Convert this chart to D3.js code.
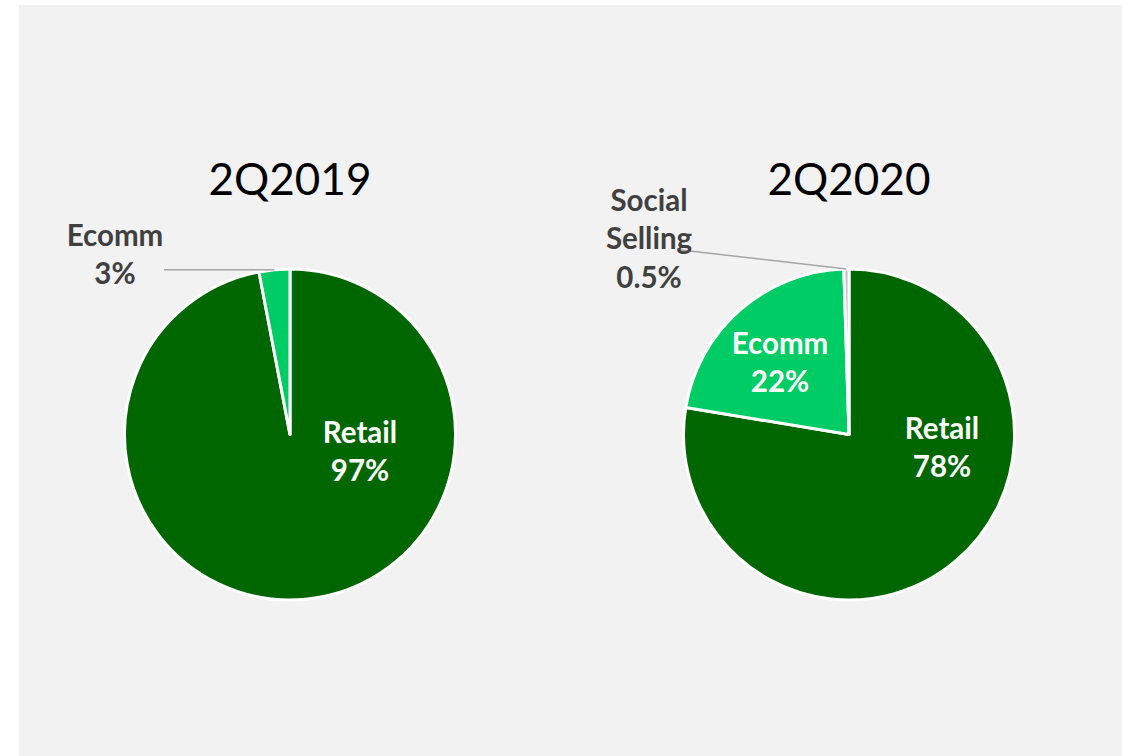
<!DOCTYPE html>
<html>
<head>
<meta charset="utf-8">
<script src="https://cdn.jsdelivr.net/npm/d3@7"></script>
<style>
  html, body { margin: 0; padding: 0; background: #ffffff; }
  svg { display: block; }
</style>
</head>
<body>
<svg id="chart" width="1122" height="756"></svg>
<script>
// Sales channel mix, two quarters
const quarters = ["2Q2019", "2Q2020"];
const channels2019 = ["Retail", "Ecomm"];
const shares2019 = [97, 3];
const labels2019 = ["97%", "3%"];
const channels2020 = ["Retail", "Ecomm", "Social Selling"];
const shares2020 = [78, 22, 0.5];
const labels2020 = ["78%", "22%", "0.5%"];

const channelColors = { "Retail": "#006600", "Ecomm": "#00cc66", "Social Selling": "#bfbfbf" };

const svg = d3.select("#chart");
const W = 1122, H = 756;

// panel background
svg.append("rect").attr("x", 19).attr("y", 5).attr("width", W - 19).attr("height", H - 5).attr("fill", "#f2f2f2");

const radius = 165.5;
const fontFam = "Lato, 'Open Sans', sans-serif";

// label layout per pie: offset of first text baseline from the pie centre
const layouts = [
  {
    cx: 290, cy: 434.5,
    labels: {
      "Retail": { dx: 70, dy: 8, fill: "#ffffff" },
      "Ecomm": { dx: -175, dy: -189, fill: "#404040", leader: { x: -126 } }
    },
    lines: { "Retail": ["Retail"], "Ecomm": ["Ecomm"] }
  },
  {
    cx: 849, cy: 434.5,
    labels: {
      "Retail": { dx: 93, dy: 4, fill: "#ffffff" },
      "Ecomm": { dx: -69, dy: -81, fill: "#ffffff" },
      "Social Selling": { dx: -200, dy: -224, fill: "#404040", leader: { x: -172, y: -185 } }
    },
    lines: { "Retail": ["Retail"], "Ecomm": ["Ecomm"], "Social Selling": ["Social", "Selling"] }
  }
];

const datasets = [
  channels2019.map((c, i) => ({ channel: c, value: shares2019[i], label: labels2019[i] })),
  channels2020.map((c, i) => ({ channel: c, value: shares2020[i], label: labels2020[i] }))
];

const pie = d3.pie().sort(null).value(d => d.value);
const arc = d3.arc().innerRadius(0).outerRadius(radius);
const lineGap = 38.5;

datasets.forEach((data, k) => {
  const L = layouts[k];
  const g = svg.append("g").attr("transform", `translate(${L.cx},${L.cy})`);

  // title
  svg.append("text")
    .attr("x", L.cx).attr("y", 195)
    .attr("text-anchor", "middle")
    .attr("font-family", fontFam)
    .attr("font-size", 44)
    .attr("fill", "#000000")
    .text(quarters[k]);

  const arcs = pie(data);

  g.selectAll("path.slice")
    .data(arcs)
    .join("path")
    .attr("class", "slice")
    .attr("d", arc)
    .attr("fill", d => channelColors[d.data.channel])
    .attr("stroke", "#ffffff")
    .attr("stroke-width", 3)
    .attr("stroke-linejoin", "round");

  arcs.forEach(a => {
    const spec = L.labels[a.data.channel];
    const textLines = L.lines[a.data.channel].concat([a.data.label]);

    if (spec.leader) {
      // leader line from label to slice edge along its middle angle
      const mid = (a.startAngle + a.endAngle) / 2;
      const ex = radius * Math.sin(mid), ey = -radius * Math.cos(mid);
      const sx = spec.leader.x, sy = spec.leader.y !== undefined ? spec.leader.y : ey;
      g.append("line")
        .attr("x1", sx).attr("y1", sy)
        .attr("x2", ex).attr("y2", ey)
        .attr("stroke", "#a6a6a6")
        .attr("stroke-width", 1.5);
    }

    const t = g.append("text")
      .attr("text-anchor", "middle")
      .attr("font-family", fontFam)
      .attr("font-weight", "bold")
      .attr("font-size", 29.5)
      .attr("fill", spec.fill);
    textLines.forEach((s, i) => {
      t.append("tspan")
        .attr("x", spec.dx)
        .attr("y", spec.dy + i * lineGap)
        .text(s);
    });
  });
});
</script>
</body>
</html>
